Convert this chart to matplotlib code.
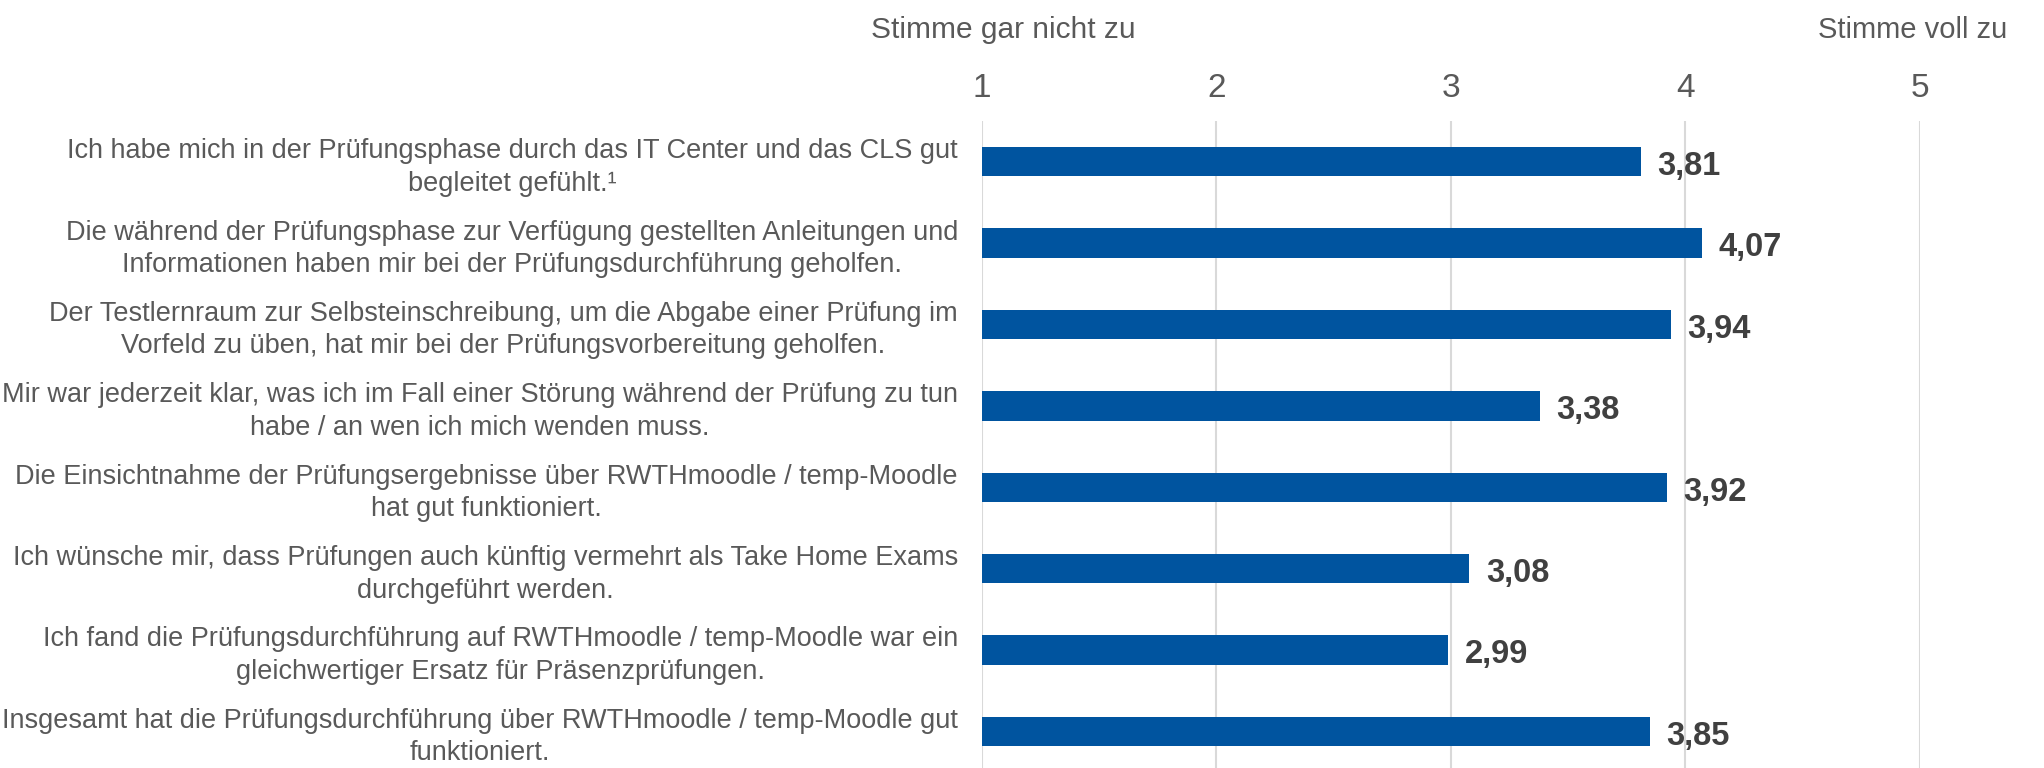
import matplotlib.pyplot as plt

plt.rcParams['font.family'] = ['Liberation Sans', 'DejaVu Sans']

aussagen = [
    "Ich habe mich in der Prüfungsphase durch das IT Center und das CLS gut\nbegleitet gefühlt.¹",
    "Die während der Prüfungsphase zur Verfügung gestellten Anleitungen und\nInformationen haben mir bei der Prüfungsdurchführung geholfen.",
    "Der Testlernraum zur Selbsteinschreibung, um die Abgabe einer Prüfung im\nVorfeld zu üben, hat mir bei der Prüfungsvorbereitung geholfen.",
    "Mir war jederzeit klar, was ich im Fall einer Störung während der Prüfung zu tun\nhabe / an wen ich mich wenden muss.",
    "Die Einsichtnahme der Prüfungsergebnisse über RWTHmoodle / temp-Moodle\nhat gut funktioniert.",
    "Ich wünsche mir, dass Prüfungen auch künftig vermehrt als Take Home Exams\ndurchgeführt werden.",
    "Ich fand die Prüfungsdurchführung auf RWTHmoodle / temp-Moodle war ein\ngleichwertiger Ersatz für Präsenzprüfungen.",
    "Insgesamt hat die Prüfungsdurchführung über RWTHmoodle / temp-Moodle gut\nfunktioniert.",
]
mittelwerte = [3.81, 4.07, 3.94, 3.38, 3.92, 3.08, 2.99, 3.85]
skala = [1, 2, 3, 4, 5]

blau = '#00549F'
grau = '#595959'

fig = plt.figure(figsize=(20.44, 7.68), dpi=100)
ax = fig.add_axes([0.4802, 0.0, 0.4591, 0.8424])

pos = list(range(len(mittelwerte)))
ax.barh(pos, [m - 1 for m in mittelwerte], left=1, height=0.36, color=blau, zorder=3)

for p, m in zip(pos, mittelwerte):
    ax.text(m + 0.07, p + 0.06, f"{m:.2f}".replace('.', ','), va='center', ha='left',
            fontsize=23.5, fontweight='bold', color='#404040')

# Beschriftungen links, etwas unterhalb der Balkenmitte
for p, txt in zip(pos, aussagen):
    ax.text(-0.0252, p + 0.07, txt, transform=ax.get_yaxis_transform(), ha='right', va='center',
            multialignment='center', linespacing=1.32, fontsize=19.5, color=grau)

ax.set_xlim(1, 5)
ax.set_ylim(7.45, -0.5)
ax.set_xticks(skala)
ax.xaxis.tick_top()
ax.tick_params(axis='x', length=0, labelsize=24, labelcolor=grau, pad=12)
ax.set_yticks([])
ax.grid(axis='x', color='#d9d9d9', linewidth=1.5, zorder=0)
for s in ax.spines.values():
    s.set_visible(False)

fig.text(0.4908, 0.961, 'Stimme gar nicht zu', ha='center', va='center', fontsize=21.5, color=grau)
fig.text(0.982, 0.961, 'Stimme voll zu', ha='right', va='center', fontsize=21, color=grau)

fig.savefig('out.png', dpi=100)
